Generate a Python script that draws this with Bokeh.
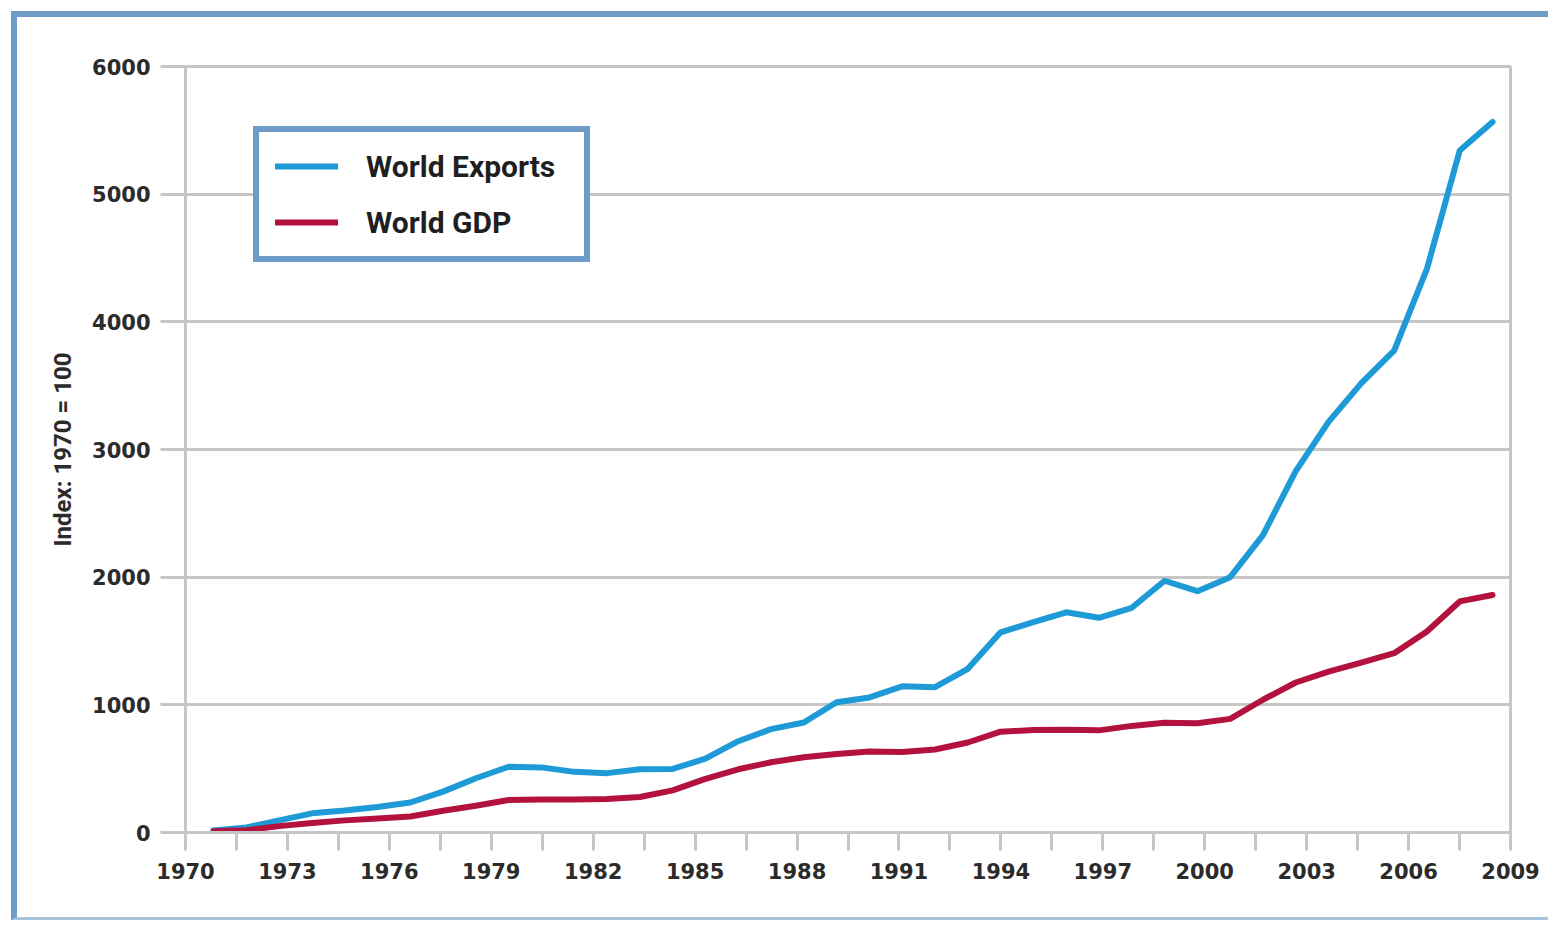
from bokeh.plotting import figure
from bokeh.models import Range1d, FixedTicker, Legend, LegendItem, ColumnDataSource
from bokeh.embed import file_html
from bokeh.resources import INLINE

# ---- data ----
years = list(range(1970, 2010))
world_exports = [15, 40, 95, 150, 172, 200, 235, 320, 425, 515,
                 510, 475, 465, 495, 498, 578, 715, 810, 862, 1020,
                 1058, 1145, 1138, 1282, 1568, 1647, 1725, 1682, 1760, 1972,
                 1890, 2000, 2330, 2830, 3216, 3520, 3775, 4415, 5342, 5565]
world_gdp = [10, 18, 50, 75, 95, 110, 125, 170, 210, 255,
             258, 258, 262, 278, 330, 420, 495, 550, 590, 615,
             635, 630, 650, 705, 790, 802, 804, 800, 835, 860,
             856, 890, 1040, 1175, 1260, 1330, 1405, 1575, 1810, 1860]
axis_labels_years = list(range(1970, 2010, 3))
y_ticks = [0, 1000, 2000, 3000, 4000, 5000, 6000]

EXPORT_COLOR = "#1e9ad6"
GDP_COLOR = "#b3123f"
GRID = "#c6c6c6"
FRAME_BLUE = "#6e9cc9"
TEXT = "#2b2b2b"

src = ColumnDataSource(dict(year=years, exports=world_exports, gdp=world_gdp))

p = figure(width=1537, height=909, output_backend="svg", toolbar_location=None,
           x_range=Range1d(1970, 2009), y_range=Range1d(0, 6000),
           min_border_left=168, min_border_right=44, min_border_top=49,
           min_border_bottom=94, background_fill_color="white",
           border_fill_color="white")
p.styles = {"border-top": f"6px solid {FRAME_BLUE}",
            "border-left": f"6px solid {FRAME_BLUE}",
            "border-bottom": "3px solid #a9c3dd",
            "transform": "translate(11px, 11px)"}

# data placement scale (the series sit slightly inside the labelled axis)
p.extra_x_ranges = {"data": Range1d(1969.146, 2009.548)}

r_exp = p.line("year", "exports", source=src, x_range_name="data",
               line_color=EXPORT_COLOR, line_width=6, line_join="round", line_cap="round")
r_gdp = p.line("year", "gdp", source=src, x_range_name="data",
               line_color=GDP_COLOR, line_width=6, line_join="round", line_cap="round")

# frame
p.outline_line_color = GRID
p.outline_line_width = 3
p.xgrid.visible = False
p.ygrid.grid_line_color = GRID
p.ygrid.grid_line_width = 3
p.ygrid.ticker = FixedTicker(ticks=y_ticks)

# x axis
xa = p.xaxis[0]
xa.ticker = FixedTicker(ticks=axis_labels_years,
                        minor_ticks=[y + 1.5 for y in axis_labels_years[:-1]])
xa.axis_line_color = GRID
xa.axis_line_width = 3
xa.major_tick_line_color = GRID
xa.major_tick_line_width = 3
xa.major_tick_out = 18
xa.major_tick_in = 0
xa.minor_tick_line_color = GRID
xa.minor_tick_line_width = 3
xa.minor_tick_out = 18
xa.minor_tick_in = 0
xa.major_label_text_font = "DejaVu Sans"
xa.major_label_text_font_style = "bold"
xa.major_label_text_font_size = "21px"
xa.major_label_text_color = TEXT
xa.major_label_standoff = 12

# y axis
ya = p.yaxis[0]
ya.ticker = FixedTicker(ticks=y_ticks)
ya.axis_line_color = GRID
ya.axis_line_width = 3
ya.major_tick_line_color = GRID
ya.major_tick_line_width = 3
ya.major_tick_out = 25
ya.major_tick_in = 0
ya.minor_tick_line_color = None
ya.major_label_text_font = "DejaVu Sans"
ya.major_label_text_font_style = "bold"
ya.major_label_text_font_size = "21px"
ya.major_label_text_color = TEXT
ya.major_label_standoff = 10
ya.axis_label = "Index: 1970 = 100"
ya.axis_label_text_font = "Roboto"
ya.axis_label_text_font_style = "bold"
ya.axis_label_text_font_size = "24px"
ya.axis_label_text_color = TEXT
ya.axis_label_standoff = 12

legend = Legend(items=[LegendItem(label="World Exports", renderers=[r_exp]),
                       LegendItem(label="World GDP", renderers=[r_gdp])],
                location=(68, 570), orientation="vertical",
                padding=16, spacing=20, glyph_width=63, glyph_height=36,
                label_height=36, label_width=202, label_standoff=28,
                border_line_color=FRAME_BLUE, border_line_width=6,
                border_line_alpha=1.0,
                background_fill_color="white", background_fill_alpha=1.0,
                label_text_font="Roboto", label_text_font_style="bold",
                label_text_font_size="30px", label_text_color="#1f1f1f")
p.add_layout(legend, "center")

open("out.html", "w").write(file_html(p, INLINE))
